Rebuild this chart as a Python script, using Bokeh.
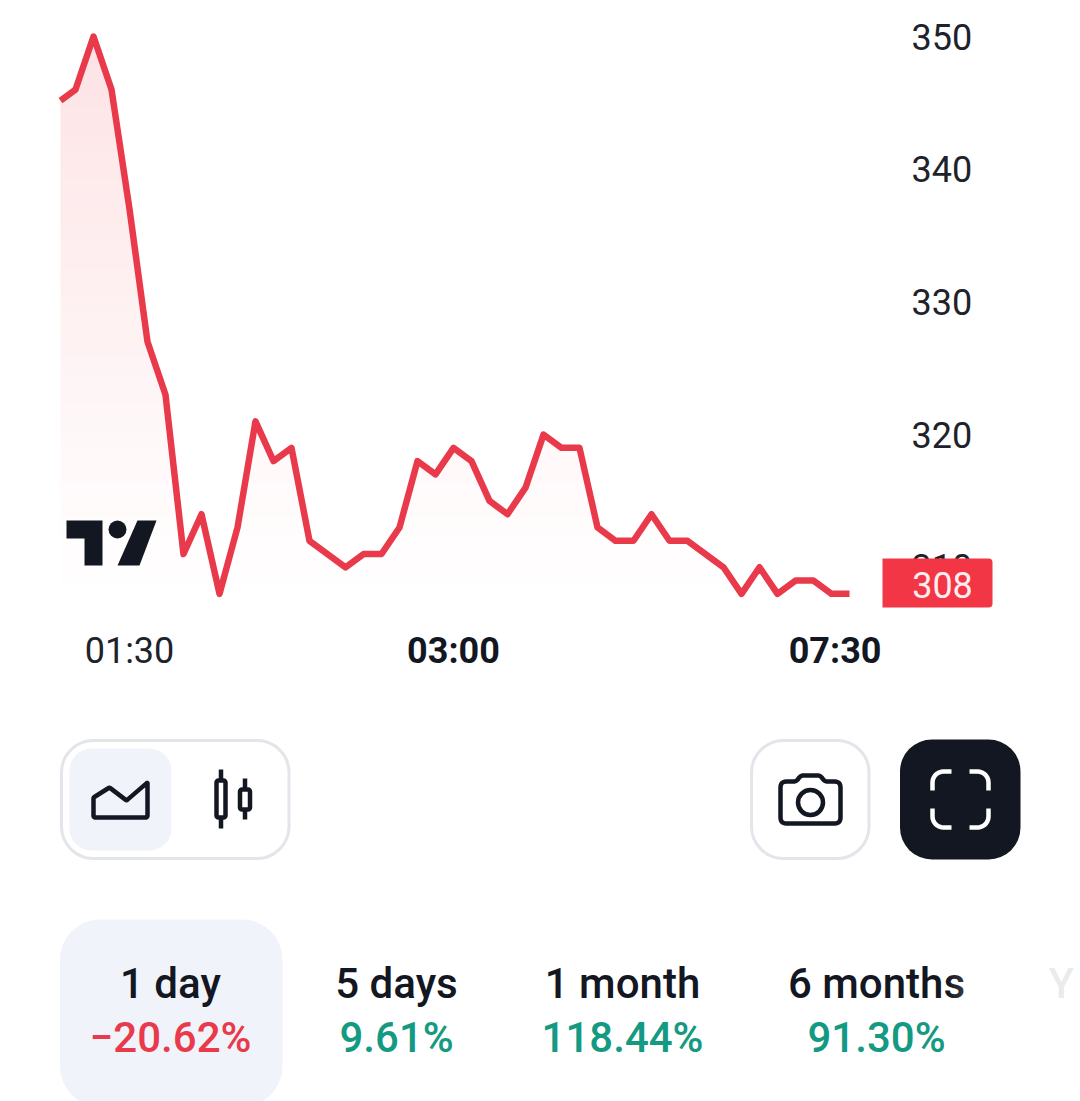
import numpy as np
from bokeh.plotting import figure
from bokeh.layouts import column
from bokeh.models import Range1d, LinearAxis, FixedTicker
from bokeh.core.properties import value
from bokeh.embed import file_html
from bokeh.resources import INLINE

# ---- data ----
prices = [345, 346, 350, 346, 337, 327, 323, 311, 314, 308, 313, 321, 318, 319, 312,
          311, 310, 311, 311, 313, 318, 317, 319, 318, 315, 314, 316, 320, 319, 319,
          313, 312, 312, 314, 312, 312, 311, 310, 308, 310, 308, 309, 309, 308, 308]
price_ticks = [310, 320, 330, 340, 350]
last_price = 308
plain_tick = 4
plain_label = "01:30"
bold_ticks = [22, 43.2]
bold_labels = ["03:00", "07:30"]
tab_names = ["1 day", "5 days", "1 month", "6 months"]
tab_changes = ["\u221220.62%", "9.61%", "118.44%", "91.30%"]

RED = "#e93a4b"
BOX = "#f23645"
INK = "#131722"
TEXT = "#1e222a"
TEAL = "#149a82"
EDGE = "#e3e5ea"
PALE = "#f0f3fa"
FONT = "Roboto"
MED = "Roboto Medium"

# page pixel -> data helpers (only for non-data furniture)
def dx(px):
    return (px - 57) / 18.0
def dy(py):
    return 350 - (py - 36) / 13.27

# ---- chart ----
idx = list(range(len(prices)))
p = figure(width=1080, height=693, output_backend="svg", toolbar_location=None,
           x_range=Range1d(dx(0), dx(1080)), y_range=Range1d(dy(693), dy(0)),
           x_axis_type=None, y_axis_type=None, min_border=0)
p.outline_line_color = None
p.grid.visible = False
p.background_fill_color = "white"
p.border_fill_color = "white"

# gradient under the line, then white mask above the line
n = 140
t = np.linspace(0, 1, n)  # 0 = bottom
alpha = (255 * 0.15 * t ** 1.1).astype(np.uint8)
rgba = np.zeros((n, 1, 4), dtype=np.uint8)
rgba[:, 0, 0] = 242
rgba[:, 0, 1] = 54
rgba[:, 0, 2] = 69
rgba[:, 0, 3] = alpha
img = rgba.view(np.uint32).reshape(n, 1)
p.image_rgba(image=[img], x=dx(60), y=dy(610), dw=idx[-1] - 0.05 - dx(60), dh=dy(20) - dy(610))
p.varea(x=[dx(50)] + idx, y1=[prices[0]] + prices, y2=[dy(0)] * (len(idx) + 1), fill_color="white")

# logo
p.patch([dx(v) for v in (66, 102, 102, 84, 84, 66)], [dy(v) for v in (520, 520, 565, 565, 538, 538)],
        fill_color=INK, line_color=None)
p.patch([dx(v) for v in (137, 156, 139, 117)], [dy(v) for v in (520, 520, 565, 565)],
        fill_color=INK, line_color=None)
p.scatter([dx(117)], [dy(529)], size=18, fill_color=INK, line_color=None)

# the frame cuts the first segment at the chart's left edge
p.line([dx(60)] + idx[1:], [prices[0] + 0.17] + prices[1:], line_color=RED, line_width=6.5,
       line_join="round")

yaxis = LinearAxis(ticker=FixedTicker(ticks=price_ticks))
yaxis.axis_line_color = None
yaxis.major_tick_line_color = None
yaxis.minor_tick_line_color = None
yaxis.major_label_standoff = -175
yaxis.major_label_text_font = FONT
yaxis.major_label_text_font_size = "36px"
yaxis.major_label_text_color = TEXT
p.add_layout(yaxis, "right")

xaxis = LinearAxis(ticker=FixedTicker(ticks=[plain_tick]),
                   major_label_overrides={plain_tick: plain_label})
bold_axis = LinearAxis(ticker=FixedTicker(ticks=bold_ticks),
                       major_label_overrides=dict(zip(bold_ticks, bold_labels)))
for ax, style, col in ((xaxis, "normal", TEXT), (bold_axis, "bold", INK)):
    ax.axis_line_color = None
    ax.major_tick_line_color = None
    ax.minor_tick_line_color = None
    ax.major_label_standoff = -70
    ax.major_label_text_font = FONT
    ax.major_label_text_font_size = "36px"
    ax.major_label_text_font_style = style
    ax.major_label_text_color = col
    p.add_layout(ax, "below")

p.quad(left=[dx(882)], right=[dx(992)], top=[dy(558)], bottom=[dy(607)], fill_color=BOX,
       line_color=None, border_radius=(0, 4, 4, 0), level="annotation")
p.text([dx(942)], [dy(584)], text=[str(last_price)], text_font=value(FONT), text_font_size="36px",
       text_color="#ffeef0", text_align="center", text_baseline="middle", level="annotation")

# ---- controls, in page pixels ----
u = figure(width=1080, height=408, output_backend="svg", toolbar_location=None,
           x_range=Range1d(0, 1080), y_range=Range1d(1101, 693),
           x_axis_type=None, y_axis_type=None, min_border=0)
u.outline_line_color = None
u.grid.visible = False
u.background_fill_color = "white"
u.border_fill_color = "white"

def box(l, r, t, b, rad, fill=None, line=None, lw=3):
    u.quad(left=[l], right=[r], top=[t], bottom=[b], border_radius=rad,
           fill_color=fill if fill else "white", fill_alpha=1 if fill else 0,
           line_color=line, line_width=lw)

box(61, 288.5, 740, 858, 32, line=EDGE)
box(69, 171, 748, 850, 22, fill=PALE)
box(751, 868.5, 740, 858, 32, line=EDGE)
box(899.5, 1020, 739, 859, 32, fill=INK)
box(59.5, 282, 919, 1106, 40, fill=PALE)

ICON = dict(line_color=INK, line_width=4.5, line_join="round", line_cap="round")

def rounded(pts, radii):
    xs, ys = [], []
    k = len(pts)
    for i, (c, r) in enumerate(zip(pts, radii)):
        c = np.array(c, float)
        a = np.array(pts[i - 1], float)
        b = np.array(pts[(i + 1) % k], float)
        s = c + (a - c) / np.linalg.norm(a - c) * r
        e = c + (b - c) / np.linalg.norm(b - c) * r
        for w in np.linspace(0, 1, 6):
            q = (1 - w) ** 2 * s + 2 * w * (1 - w) * c + w ** 2 * e
            xs.append(q[0])
            ys.append(q[1])
    return xs, ys

# area icon
ax_i, ay_i = rounded([(93, 797), (109, 787), (126, 800), (147, 782), (147, 817), (93, 817)],
                     [1, 1, 1, 1, 2, 2])
u.patch(ax_i, ay_i, fill_alpha=0, **ICON)
# candles
u.segment([220.5, 220.5], [769, 817], [220.5, 220.5], [780, 828], line_color=INK, line_width=4.5)
box(216, 225, 780, 817, 2, line=INK, lw=4.5)
u.segment([244.5, 244.5], [778, 809], [244.5, 244.5], [789, 819], line_color=INK, line_width=4.5)
box(239.5, 249.5, 789, 809, 2, line=INK, lw=4.5)
# camera
cx_i, cy_i = rounded([(780, 781), (796, 781), (800, 775), (820, 775), (824, 781), (840, 781),
                      (840, 823), (780, 823)], [6, 3, 3, 3, 3, 6, 6, 6])
u.patch(cx_i, cy_i, fill_alpha=0, **ICON)
u.circle([810], [802], radius=12.5, fill_alpha=0, line_color=INK, line_width=4.5)

# fullscreen corners
def corner(x0, y0, sx, sy):
    a = np.linspace(0, np.pi / 2, 8)
    r = 11
    xs = [x0 + sx * 19] + list(x0 + sx * (r - r * np.sin(a))) + [x0]
    ys = [y0] + list(y0 + sy * (r - r * np.cos(a))) + [y0 + sy * 19]
    u.line(xs, ys, line_color="white", line_width=4.5)

corner(932, 771, 1, 1)
corner(988, 771, -1, 1)
corner(932, 827, 1, -1)
corner(988, 827, -1, -1)

# tabs
tab_x = [170, 396, 622, 876]
u.text(tab_x, [983] * 4, text=tab_names, text_font=value(MED), text_font_size="42px",
       text_color=INK, text_align="center", text_baseline="middle")
u.text(tab_x, [1037] * 4, text=tab_changes, text_font=value(MED), text_font_size="42px",
       text_color=[RED, TEAL, TEAL, TEAL], text_align="center", text_baseline="middle")
u.text([1048], [983], text=["Y"], text_font=value(MED), text_font_size="42px",
       text_color=INK, text_align="left", text_baseline="middle")

# right-edge fade
m = 64
fade = np.zeros((1, m, 4), dtype=np.uint8)
fade[0, :, :3] = 255
fade[0, :, 3] = (255 * np.clip(np.linspace(0, 135 / 115, m), 0, 0.92)).astype(np.uint8)
u.image_rgba(image=[fade.view(np.uint32).reshape(1, m)], x=945, y=919, dw=135, dh=182)

open("out.html", "w").write(file_html(column(p, u, spacing=0), INLINE))
